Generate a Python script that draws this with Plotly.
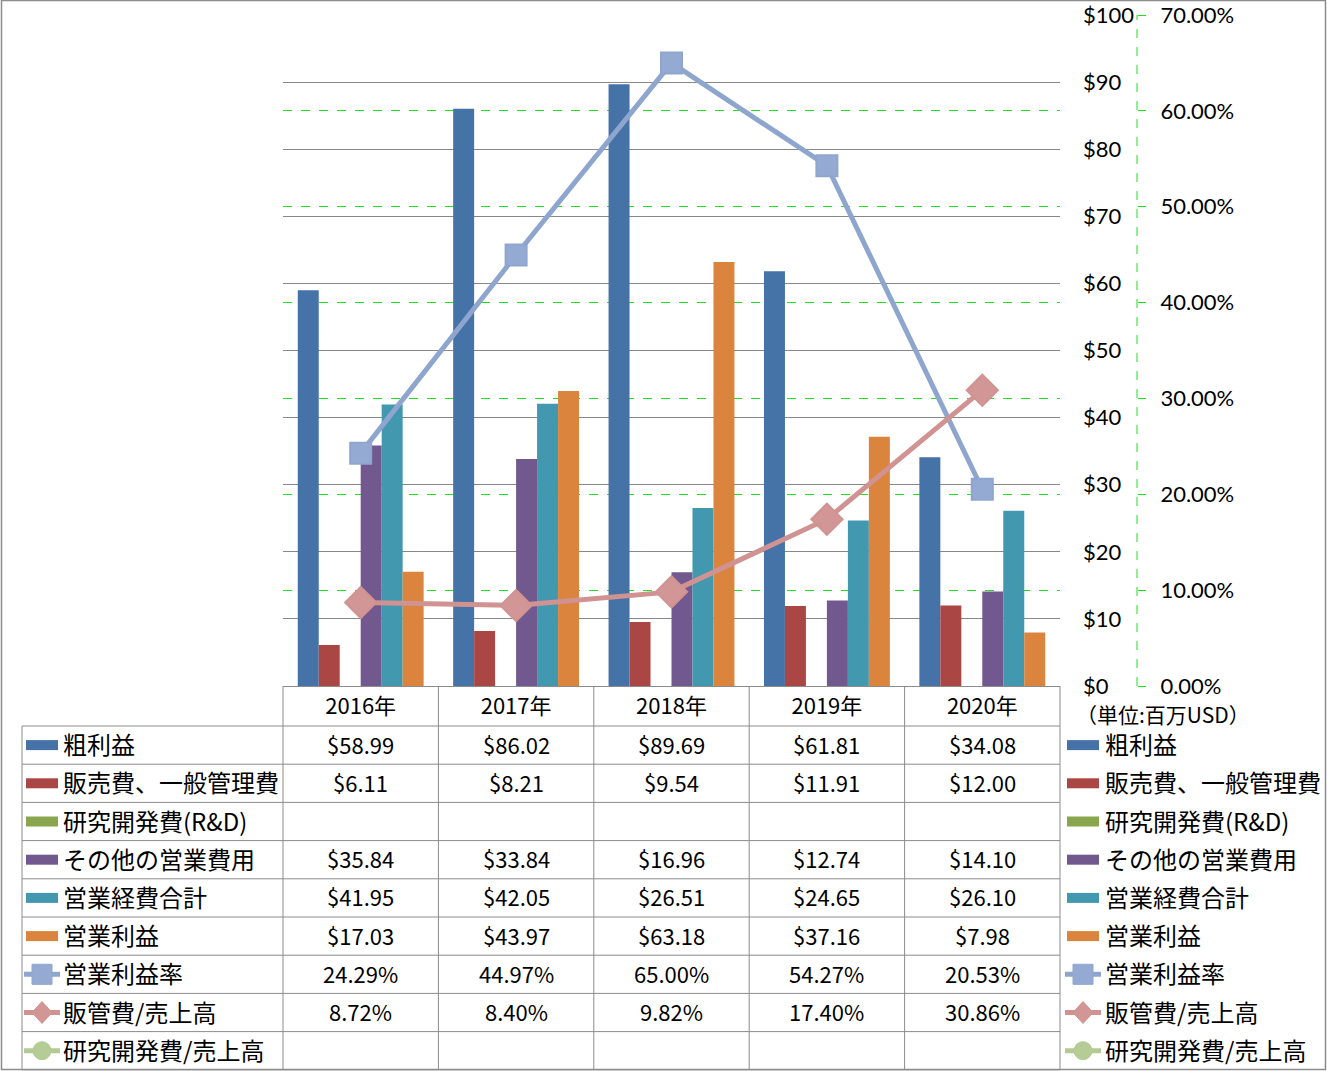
import plotly.graph_objects as go

# ---------------- data ----------------
categories = ["2016年", "2017年", "2018年", "2019年", "2020年"]
gross_profit = [58.99, 86.02, 89.69, 61.81, 34.08]
sga_expense = [6.11, 8.21, 9.54, 11.91, 12.00]
rnd_expense = [None, None, None, None, None]
other_opex = [35.84, 33.84, 16.96, 12.74, 14.10]
total_opex = [41.95, 42.05, 26.51, 24.65, 26.10]
operating_income = [17.03, 43.97, 63.18, 37.16, 7.98]
operating_margin = [24.29, 44.97, 65.00, 54.27, 20.53]
sga_ratio = [8.72, 8.40, 9.82, 17.40, 30.86]
rnd_ratio = [None, None, None, None, None]

usd_ticks = [0, 10, 20, 30, 40, 50, 60, 70, 80, 90, 100]
usd_labels = ["$0", "$10", "$20", "$30", "$40", "$50", "$60", "$70", "$80", "$90", "$100"]
pct_ticks = [0, 10, 20, 30, 40, 50, 60, 70]
pct_labels = ["0.00%", "10.00%", "20.00%", "30.00%", "40.00%", "50.00%", "60.00%", "70.00%"]

bar_names = ["粗利益", "販売費、一般管理費", "研究開発費(R&D)", "その他の営業費用", "営業経費合計", "営業利益"]
line_names = ["営業利益率", "販管費/売上高", "研究開発費/売上高"]
unit_label = "（単位:百万USD）"

bar_values = [gross_profit, sga_expense, rnd_expense, other_opex, total_opex, operating_income]
line_values = [operating_margin, sga_ratio, rnd_ratio]

# ---------------- styles ----------------
W, H = 1327, 1071
FONT = "Noto Sans CJK JP"
TICK_FONT = "Lato"
bar_colors = ["#4572A7", "#AA4643", "#89A54E", "#71588F", "#4198AF", "#DB843D"]
line_colors = ["#8EA6CE", "#D09392", "#B3CB92"]
marker_fill = ["#94AAD2", "#D39696", "#B5CC96"]
marker_symbols = ["square", "diamond", "circle"]
GRID = "#888888"
GREEN = "#1EE01E"

PL, PR, PT, PB = 283, 1060, 15, 686
CAT_W = (PR - PL) / len(categories)
TABLE_L = 22
ROW_H = 38.2
ROW0 = 726
TEXT_DY = -1.5
n_rows = len(bar_names) + len(line_names)
row_tops = [ROW0 + ROW_H * i for i in range(n_rows + 1)]


def fx(px):
    return px / W


def fy(py):
    return 1 - py / H


fig = go.Figure()

bw = 0.81 / len(bar_names)
for i, (name, vals, col) in enumerate(zip(bar_names, bar_values, bar_colors)):
    fig.add_trace(go.Bar(
        x=categories, y=vals, name=name, marker=dict(color=col, line=dict(width=0)),
        width=bw, offset=-0.405 + i * bw, showlegend=False, yaxis="y",
    ))

for i, (name, vals) in enumerate(zip(line_names, line_values)):
    fig.add_trace(go.Scatter(
        x=categories, y=vals, name=name, mode="lines+markers", yaxis="y2",
        line=dict(color=line_colors[i], width=5),
        marker=dict(symbol=marker_symbols[i], size=21 if i == 0 else 24,
                    color=marker_fill[i], line=dict(color=line_colors[i], width=2)),
        showlegend=False,
    ))

shapes = []
# outer border
shapes.append(dict(type="rect", xref="paper", yref="paper", x0=fx(1.5), x1=fx(1325.5),
                   y0=fy(1069.5), y1=fy(0.5), line=dict(color="#8C8C8C", width=1.5)))
# secondary axis dashed line
x2pos = 1137
shapes.append(dict(type="line", xref="paper", yref="paper", x0=fx(x2pos), x1=fx(x2pos),
                   y0=fy(PB), y1=fy(PT), line=dict(color=GREEN, width=1, dash="dash")))
# table horizontal lines
for yt in row_tops:
    shapes.append(dict(type="line", xref="paper", yref="paper", x0=fx(TABLE_L), x1=fx(PR),
                       y0=fy(yt), y1=fy(yt), line=dict(color="#8C8C8C", width=1)))
# table vertical lines
shapes.append(dict(type="line", xref="paper", yref="paper", x0=fx(TABLE_L), x1=fx(TABLE_L),
                   y0=fy(row_tops[0]), y1=fy(row_tops[-1]), line=dict(color="#8C8C8C", width=1)))
for k in range(len(categories) + 1):
    xv = PL + k * CAT_W
    shapes.append(dict(type="line", xref="paper", yref="paper", x0=fx(xv), x1=fx(xv),
                       y0=fy(PB), y1=fy(row_tops[-1]), line=dict(color="#8C8C8C", width=1)))

annotations = []
all_names = bar_names + line_names


def add_key(idx, cx):
    yc = (row_tops[idx] + row_tops[idx + 1]) / 2
    if idx < len(bar_names):
        col = bar_colors[idx]
        shapes.append(dict(type="rect", xref="paper", yref="paper", x0=fx(cx - 16), x1=fx(cx + 16),
                           y0=fy(yc + 5), y1=fy(yc - 5), fillcolor=col, line=dict(width=0)))
    else:
        j = idx - len(bar_names)
        col = line_colors[j]
        shapes.append(dict(type="line", xref="paper", yref="paper", x0=fx(cx - 18), x1=fx(cx + 18),
                           y0=fy(yc), y1=fy(yc), line=dict(color=col, width=5)))
        sym = marker_symbols[j]
        if sym == "square":
            shapes.append(dict(type="rect", xref="paper", yref="paper", x0=fx(cx - 10), x1=fx(cx + 10),
                               y0=fy(yc + 10), y1=fy(yc - 10), fillcolor=marker_fill[j],
                               line=dict(color=col, width=1)))
        elif sym == "diamond":
            path = "M {},{} L {},{} L {},{} L {},{} Z".format(
                fx(cx - 10), fy(yc), fx(cx), fy(yc - 11), fx(cx + 10), fy(yc), fx(cx), fy(yc + 11))
            shapes.append(dict(type="path", xref="paper", yref="paper", path=path,
                               fillcolor=marker_fill[j], line=dict(color=col, width=1)))
        else:
            shapes.append(dict(type="circle", xref="paper", yref="paper", x0=fx(cx - 9), x1=fx(cx + 9),
                               y0=fy(yc + 9), y1=fy(yc - 9), fillcolor=marker_fill[j],
                               line=dict(color=col, width=1)))


for idx, name in enumerate(all_names):
    yc = (row_tops[idx] + row_tops[idx + 1]) / 2
    add_key(idx, 42)
    add_key(idx, 1083)
    for xl in (61, 1103):
        annotations.append(dict(xref="paper", yref="paper", x=fx(xl), y=fy(yc + TEXT_DY), text=name,
                                showarrow=False, xanchor="left", yanchor="middle",
                                font=dict(family=FONT, size=24, color="black")))
    if idx < len(bar_names):
        vals = bar_values[idx]
        texts = ["" if v is None else "${:.2f}".format(v) for v in vals]
    else:
        vals = line_values[idx - len(bar_names)]
        texts = ["" if v is None else "{:.2f}%".format(v) for v in vals]
    for k, t in enumerate(texts):
        if not t:
            continue
        annotations.append(dict(xref="paper", yref="paper", x=fx(PL + (k + 0.5) * CAT_W), y=fy(yc + TEXT_DY),
                                text=t, showarrow=False, xanchor="center", yanchor="middle",
                                font=dict(family=FONT, size=22, color="black")))

annotations.append(dict(xref="paper", yref="paper", x=fx(1074), y=fy(714), text=unit_label,
                        showarrow=False, xanchor="left", yanchor="middle",
                        font=dict(family=FONT, size=21, color="black")))

fig.update_layout(
    width=W, height=H, autosize=False, margin=dict(l=0, r=0, t=0, b=0, pad=0, autoexpand=False),
    paper_bgcolor="white", plot_bgcolor="white",
    barmode="overlay",
    font=dict(family=FONT, size=22, color="black"),
    xaxis=dict(domain=[fx(PL), fx(PR)], showgrid=False, showline=True, linecolor="#8C8C8C",
               linewidth=1, ticks="", tickfont=dict(family=FONT, size=22), ticklabelstandoff=1,
               zeroline=False, range=[-0.5, 4.5], fixedrange=True, automargin=False),
    yaxis=dict(domain=[fy(PB), fy(PT)], range=[0, 100], tickmode="array",
               tickvals=usd_ticks, ticktext=usd_labels, side="right",
               showgrid=True, gridcolor=GRID, gridwidth=1, automargin=False,
               ticklabeloverflow="allow",
               showline=False, ticks="", ticklabelstandoff=22, zeroline=False,
               tickfont=dict(family=TICK_FONT, size=22)),
    yaxis2=dict(overlaying="y", side="right", anchor="free", position=fx(x2pos), range=[0, 70],
                tickmode="array", tickvals=pct_ticks, ticktext=pct_labels, automargin=False,
                ticklabeloverflow="allow",
                showgrid=True, gridcolor=GREEN, griddash="dash", gridwidth=1,
                ticks="outside", ticklen=8, tickcolor=GREEN, tickwidth=1,
                showline=False, zeroline=False, ticklabelstandoff=10,
                tickfont=dict(family=TICK_FONT, size=22)),
    shapes=shapes, annotations=annotations,
)

fig.write_html("out.html", config={"responsive": False}, default_width="1327px", default_height="1071px",
               post_script="document.body.style.margin='0';document.body.style.overflow='hidden';")
